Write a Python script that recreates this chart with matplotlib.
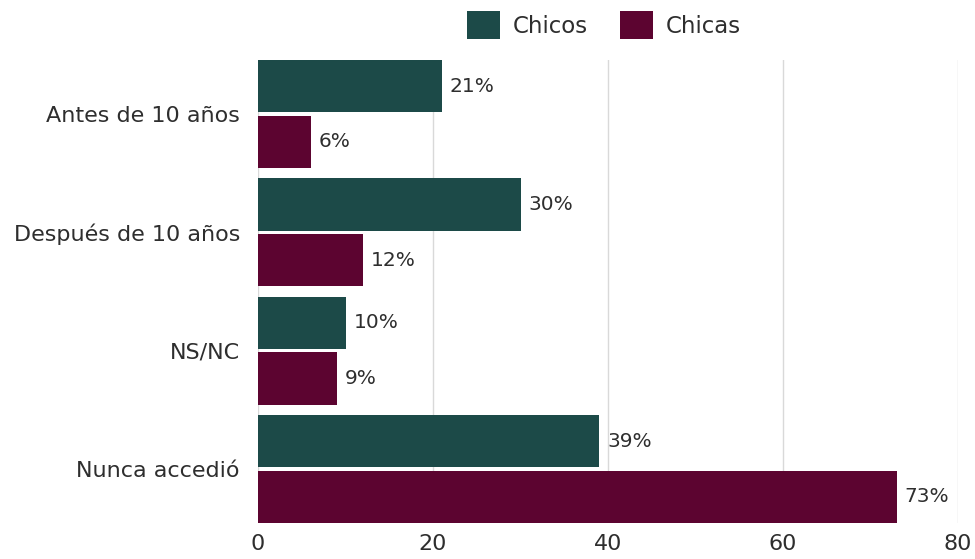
import numpy as np
import matplotlib.pyplot as plt

categorias = ['Antes de 10 años', 'Después de 10 años', 'NS/NC', 'Nunca accedió']
chicos = [21, 30, 10, 39]
chicas = [6, 12, 9, 73]

color_chicos = '#1c4a48'
color_chicas = '#5c0430'
texto = '#2e2e2e'

plt.rcParams['font.family'] = ['DejaVu Sans']

fig = plt.figure(figsize=(9.75, 5.59), dpi=100)
ax = fig.add_axes([258 / 975, 1 - 523 / 559, 700 / 975, 463 / 559])

y = np.arange(len(categorias))
alto = 0.44
desp = 0.235

b1 = ax.barh(y - desp, chicos, height=alto, color=color_chicos, label='Chicos', zorder=3)
b2 = ax.barh(y + desp, chicas, height=alto, color=color_chicas, label='Chicas', zorder=3)

for barras in (b1, b2):
    for b in barras:
        ax.text(b.get_width() + 0.9, b.get_y() + b.get_height() / 2, f'{b.get_width():.0f}%',
                va='center', ha='left', fontsize=14.5, color=texto, zorder=4)

ax.set_xlim(0, 80)
ax.set_ylim(3.455, -0.455)
ax.set_xticks([0, 20, 40, 60, 80])
ax.set_yticks(y)
ax.set_yticklabels(categorias)
ax.tick_params(axis='both', length=0, labelsize=16, colors=texto)
ax.tick_params(axis='y', pad=13)
ax.tick_params(axis='x', pad=8)
ax.grid(axis='x', color='#d9d9d9', linewidth=1, zorder=0)
for s in ax.spines.values():
    s.set_visible(False)

fig.legend(loc='center', bbox_to_anchor=(604 / 975, 1 - 25 / 559), ncol=2, frameon=False,
           fontsize=16.5, handlelength=1.45, handleheight=1.45, handletextpad=0.55,
           columnspacing=1.4, labelcolor=texto)

fig.savefig('out.png', dpi=100)
